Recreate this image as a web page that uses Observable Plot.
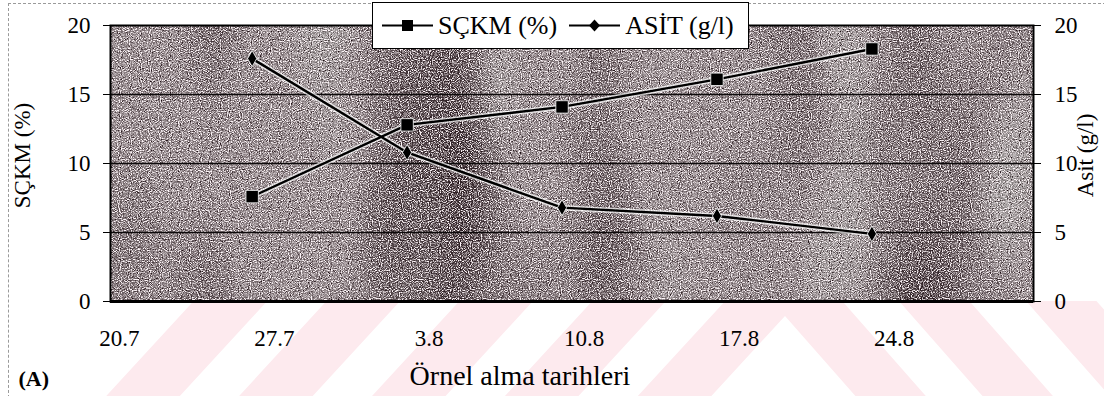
<!DOCTYPE html>
<html>
<head>
<meta charset="utf-8">
<script src="https://cdn.jsdelivr.net/npm/d3@7"></script>
<script src="https://cdn.jsdelivr.net/npm/@observablehq/plot@0.6"></script>
<style>
  html, body { margin: 0; padding: 0; background: #fff; }
  #wrap { position: relative; width: 1104px; height: 396px; overflow: hidden; font-family: "Liberation Serif", "Times New Roman", serif; }
  #watermark { position: absolute; left: 0; top: 0; z-index: 0; }
  #chart { position: absolute; left: 0; top: 0; z-index: 1; }
  #chart text { font-family: "Liberation Serif", "Times New Roman", serif !important; }
  #frameLine { position: absolute; left: 8px; top: 3px; right: -2px; bottom: -2px; border-top: 1px dashed #9a9a9a; border-left: 1px dashed #9a9a9a; z-index: 0; }
  #legend { position: absolute; left: 372px; top: 2px; width: 377px; height: 47px; z-index: 2;
            background: #fff; border: 1.5px solid #000; box-sizing: border-box;
            display: flex; align-items: center; font-size: 26px; color: #000; white-space: nowrap; }
  #legend .item { display: flex; align-items: center; }
  #legend svg { display: block; }
</style>
</head>
<body>
<svg width="0" height="0" style="position:absolute">
  <defs>
    <!-- grainy print texture for the plotting area -->
    <filter id="grainFx" x="0" y="0" width="1" height="1" color-interpolation-filters="sRGB">
      <feFlood flood-color="#857a7d" result="base"/>
      <feTurbulence type="fractalNoise" baseFrequency="0.008 0.003" numOctaves="2" seed="4" result="bandNoise"/>
      <feColorMatrix in="bandNoise" type="matrix"
        values="0 0 0 0 0.10  0 0 0 0 0.04  0 0 0 0 0.06  2.2 0 0 0 -0.95" result="bands"/>
      <feColorMatrix in="bandNoise" type="matrix"
        values="0 0 0 0 0.70  0 0 0 0 0.72  0 0 0 0 0.70  0 -2.2 0 0 1.0" result="lightBands"/>
      <feTurbulence type="fractalNoise" baseFrequency="0.9" numOctaves="1" seed="11" result="fine"/>
      <feColorMatrix in="fine" type="matrix"
        values="0 0 0 0 1  0 0 0 0 0.97  0 0 0 0 0.98  4 0 0 0 -1.75" result="light"/>
      <feColorMatrix in="fine" type="matrix"
        values="0 0 0 0 0.10  0 0 0 0 0.04  0 0 0 0 0.06  0 4 0 0 -2.0" result="dark"/>
      <feMerge>
        <feMergeNode in="base"/>
        <feMergeNode in="lightBands"/>
        <feMergeNode in="bands"/>
        <feMergeNode in="dark"/>
        <feMergeNode in="light"/>
      </feMerge>
    </filter>
    <clipPath id="belowPlot"><rect x="0" y="301" width="1104" height="95"/></clipPath>
  </defs>
</svg>
<div id="wrap">
  <svg id="watermark" width="1104" height="396"></svg>
  <div id="frameLine"></div>
  <div id="chart"></div>
  <div id="legend"></div>
</div>
<script>
// Sampling dates (day/month labels) and their day offsets from 20 July
const dateLabels = ["20.7", "27.7", "3.8", "10.8", "17.8", "24.8"];
const labelDays = [0, 7, 14, 21, 28, 35];

// Measurement days (offset from 20 July)
const sampleDays = [6, 13, 20, 27, 34];

// Soluble dry matter, %
const sckm = [7.6, 12.8, 14.1, 16.1, 18.3];
// Acidity, g/l
const asit = [17.6, 10.8, 6.8, 6.2, 4.9];

const yTicks = [0, 5, 10, 15, 20];

const seriesNames = ["SÇKM (%)", "ASİT (g/l)"];

const rows = sampleDays.map((d, i) => ({day: d, sckm: sckm[i], asit: asit[i]}));
const labelOf = new Map(labelDays.map((d, i) => [d, dateLabels[i]]));

const font = "'Liberation Serif', 'Times New Roman', serif";

const chart = Plot.plot({
  width: 1104,
  height: 396,
  marginLeft: 110,
  marginRight: 71,
  marginTop: 25,
  marginBottom: 95,
  style: {background: "transparent", fontFamily: font, color: "#000", overflow: "visible"},
  x: {domain: [-0.4, 41.3]},
  y: {domain: [0, 20]},
  marks: [
    Plot.frame({fill: "#857a7d"}),
    Plot.ruleY([5, 10, 15], {stroke: "#0d0a0b", strokeWidth: 1.4}),
    Plot.frame({stroke: "#000", strokeWidth: 2}),
    Plot.ruleY([0], {stroke: "#000", strokeWidth: 3}),

    Plot.axisX({ticks: labelDays, tickFormat: d => labelOf.get(d), tickSize: 0, tickPadding: 28,
                fontSize: 23, fontFamily: font, label: null}),
    Plot.axisY({anchor: "left", ticks: yTicks, tickSize: 7, tickPadding: 13, fontSize: 23, fontFamily: font, label: null}),
    Plot.axisY({anchor: "right", ticks: yTicks, tickSize: 7, tickPadding: 14, fontSize: 23, fontFamily: font, label: null}),

    // white fringe behind the series lines
    Plot.line(rows, {x: "day", y: "sckm", stroke: "#fff", strokeOpacity: 0.7, strokeWidth: 5.5}),
    Plot.line(rows, {x: "day", y: "asit", stroke: "#fff", strokeOpacity: 0.7, strokeWidth: 5.5}),
    Plot.line(rows, {x: "day", y: "sckm", stroke: "#000", strokeWidth: 2.4}),
    Plot.line(rows, {x: "day", y: "asit", stroke: "#000", strokeWidth: 2.4}),
    Plot.dot(rows, {x: "day", y: "sckm", symbol: "square", r: 7, fill: "#000", stroke: "#fff", strokeWidth: 0.8}),
    Plot.dot(rows, {x: "day", y: "asit", symbol: "diamond", r: 4.8, fill: "#000", stroke: "#fff", strokeWidth: 0.8}),

    // axis titles
    Plot.text(["SÇKM (%)"], {text: d => d, frameAnchor: "left", textAnchor: "middle", rotate: -90,
                            dx: -88, dy: -8, fontSize: 23, fontFamily: font, fill: "#000"}),
    Plot.text(["Asit (g/l)"], {text: d => d, frameAnchor: "right", textAnchor: "middle", rotate: -90,
                              dx: 52, dy: -8, fontSize: 23, fontFamily: font, fill: "#000"}),
    Plot.text(["Örnel alma tarihleri"], {text: d => d, frameAnchor: "bottom", lineAnchor: "bottom",
                                        dx: -52, dy: 83, fontSize: 28, fontFamily: font, fill: "#000"}),
    Plot.text(["(A)"], {text: d => d, frameAnchor: "bottom-left", textAnchor: "start", lineAnchor: "bottom",
                        dx: -92, dy: 84, fontSize: 22, fontWeight: "bold", fontFamily: font, fill: "#000"})
  ]
});

// give the plotting area its printed grain
const frameEl = chart.querySelector('[aria-label="frame"]');
const frameRect = frameEl && (frameEl.tagName.toLowerCase() === "rect" ? frameEl : frameEl.querySelector("rect"));
if (frameRect) frameRect.setAttribute("filter", "url(#grainFx)");
document.getElementById("chart").appendChild(chart);

// legend boxed over the top of the plot
const legend = d3.select("#legend");
const symbols = [
  g => g.append("rect").attr("x", 20).attr("y", 8).attr("width", 11).attr("height", 11).attr("fill", "#000"),
  g => g.append("path").attr("d", "M25.5,7.5 L31,13.5 L25.5,19.5 L20,13.5 Z").attr("fill", "#000")
];
seriesNames.forEach((name, i) => {
  const item = legend.append("div").attr("class", "item")
    .style("margin-left", i === 0 ? "9px" : "12px");
  const s = item.append("svg").attr("width", 52).attr("height", 27);
  s.append("line").attr("x1", 0).attr("x2", 51).attr("y1", 13.5).attr("y2", 13.5)
    .attr("stroke", "#000").attr("stroke-width", 2);
  symbols[i](s);
  item.append("span").style("margin-left", "4px").text(name);
});

// faint watermark below the plot: nested triangular bands in pale pink
const wm = d3.select("#watermark").append("g").attr("clip-path", "url(#belowPlot)");
const apexX = 785, apexY = 316, slopeL = 0.92, slopeR = 0.88;
const band = 72, gap = 58;
for (let k = 0; k < 5; k++) {
  const inner = k * (band + gap);
  const outer = inner + band;
  const yb = 420;
  const pts = (off) => {
    const ay = apexY - off / 0.9;
    return [[apexX - slopeL * (yb - ay), yb], [apexX, ay], [apexX + slopeR * (yb - ay), yb]];
  };
  const o = pts(outer), n = pts(inner);
  const path = `M${o[0]}L${o[1]}L${o[2]}L${n[2]}L${n[1]}L${n[0]}Z`;
  wm.append("path").attr("d", path).attr("fill", "#fdeaee");
}
</script>
</body>
</html>
